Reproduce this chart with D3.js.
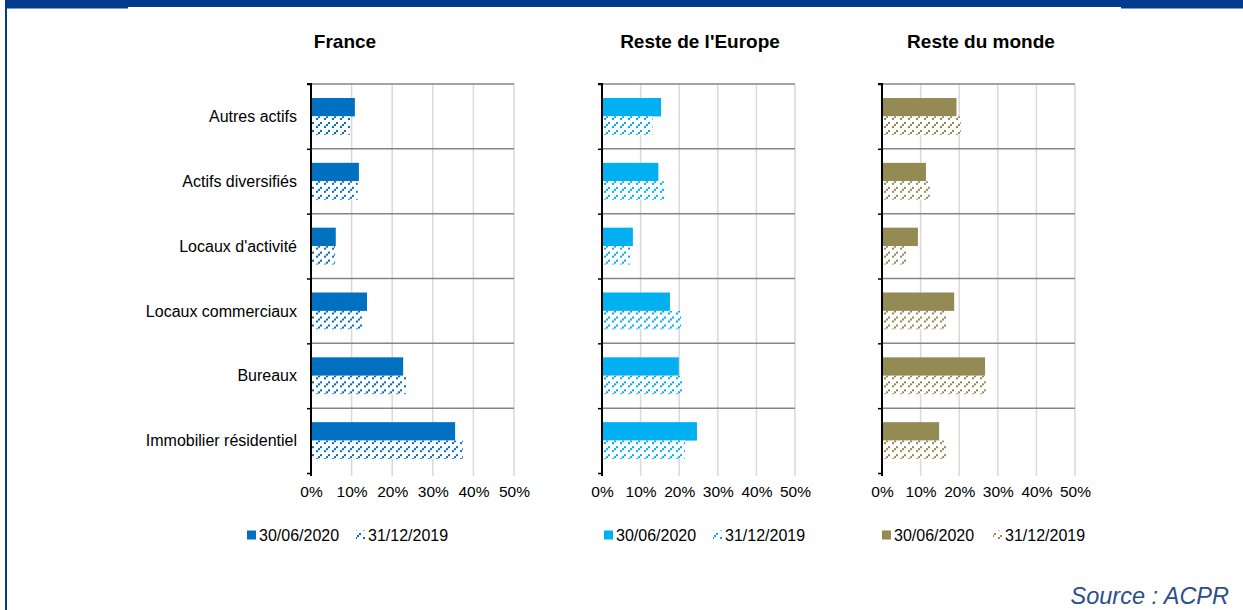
<!DOCTYPE html>
<html>
<head>
<meta charset="utf-8">
<script src="https://cdn.jsdelivr.net/npm/d3@7"></script>
<style>
  html, body { margin: 0; padding: 0; background: #fff; }
  svg { display: block; font-family: "Liberation Sans", Arial, sans-serif; }
</style>
</head>
<body>
<svg id="chart" width="1243" height="610"></svg>
<script>
// categories listed top to bottom as on the chart
const categories = ["Autres actifs", "Actifs diversifiés", "Locaux d'activité", "Locaux commerciaux", "Bureaux", "Immobilier résidentiel"];
const seriesLabels = ["30/06/2020", "31/12/2019"];
const xTicks = [0, 0.1, 0.2, 0.3, 0.4, 0.5];

const franceJun2020 = [0.108, 0.118, 0.061, 0.138, 0.227, 0.355];
const franceDec2019 = [0.096, 0.115, 0.059, 0.126, 0.234, 0.374];
const europeJun2020 = [0.153, 0.146, 0.080, 0.176, 0.199, 0.246];
const europeDec2019 = [0.131, 0.161, 0.073, 0.205, 0.212, 0.215];
const mondeJun2020 = [0.193, 0.114, 0.093, 0.187, 0.267, 0.148];
const mondeDec2019 = [0.204, 0.124, 0.067, 0.166, 0.269, 0.168];

const titles = ["France", "Reste de l'Europe", "Reste du monde"];
const colors = ["#0070c0", "#00b0f0", "#948a54"];

const svg = d3.select('#chart');
const defs = svg.append('defs');

// frame
svg.append('rect').attr('x', 5).attr('y', 0).attr('width', 1238).attr('height', 7).attr('fill', '#003b8e');
svg.append('rect').attr('x', 5).attr('y', 0).attr('width', 123).attr('height', 8.5).attr('fill', '#003b8e');
svg.append('rect').attr('x', 1121).attr('y', 0).attr('width', 122).attr('height', 8.5).attr('fill', '#003b8e');
svg.append('rect').attr('x', 5).attr('y', 0).attr('width', 2).attr('height', 610).attr('fill', '#003b8e');

// dashed diagonal fill for the 2019 bars
colors.forEach((c, i) => {
  const p = defs.append('pattern')
    .attr('id', 'hatch' + i)
    .attr('patternUnits', 'userSpaceOnUse')
    .attr('width', 8).attr('height', 8);
  p.append('rect').attr('width', 8).attr('height', 8).attr('fill', '#fff');
  [[6, 0], [4, 2], [0, 6]].forEach(([x, y]) => {
    p.append('rect').attr('x', x).attr('y', y).attr('width', 2).attr('height', 2).attr('fill', c);
  });
});

const panels = [
  { title: titles[0], a: franceJun2020, b: franceDec2019, x0: 311, x1: 514, titleX: 345, legX: 247, legGap: 109, labels: true },
  { title: titles[1], a: europeJun2020, b: europeDec2019, x0: 602, x1: 795, titleX: 700, legX: 604, legGap: 109, labels: false },
  { title: titles[2], a: mondeJun2020, b: mondeDec2019, x0: 882, x1: 1075, titleX: 981, legX: 882, legGap: 111, labels: false }
];

const plotTop = 84, plotBottom = 473;

panels.forEach((pn, pi) => {
  const g = svg.append('g');
  const x = d3.scaleLinear().domain([0, 0.5]).range([pn.x0, pn.x1]);
  const y = d3.scaleBand().domain(categories).range([plotTop, plotBottom]);
  const inner = d3.scaleBand().domain(seriesLabels).range([0, y.bandwidth()]).paddingOuter(0.76);
  const edges = d3.scaleLinear().domain([0, categories.length]).range([plotTop, plotBottom]);

  // vertical grid
  g.append('g').selectAll('line').data(xTicks.slice(1)).join('line')
    .attr('x1', d => x(d)).attr('x2', d => x(d))
    .attr('y1', plotTop).attr('y2', plotBottom + 3)
    .attr('stroke', '#d9d9d9').attr('stroke-width', 1.5);

  // horizontal category separators
  g.append('g').selectAll('line').data(d3.range(categories.length)).join('line')
    .attr('x1', pn.x0).attr('x2', pn.x1)
    .attr('y1', d => edges(d)).attr('y2', d => edges(d))
    .attr('stroke', '#868686').attr('stroke-width', 1.5);

  // bars
  const rows = categories.map((c, i) => ({ cat: c, vals: [pn.a[i], pn.b[i]] }));
  const rowG = g.append('g').selectAll('g').data(rows).join('g')
    .attr('transform', d => `translate(0,${y(d.cat)})`);
  rowG.selectAll('rect').data(d => d.vals.map((v, k) => ({ v, s: seriesLabels[k], k }))).join('rect')
    .attr('x', x(0))
    .attr('y', d => inner(d.s))
    .attr('width', d => x(d.v) - x(0))
    .attr('height', inner.bandwidth())
    .attr('fill', d => d.k === 0 ? colors[pi] : `url(#hatch${pi})`);

  // y axis with ticks at category edges
  const yAxis = d3.axisLeft(edges).tickValues(d3.range(categories.length + 1)).tickSize(4).tickFormat('');
  const ya = g.append('g').attr('transform', `translate(${pn.x0},0)`).call(yAxis);
  ya.select('.domain').attr('stroke', '#000').attr('stroke-width', 2).attr('d', `M-4,${plotTop}H0V${plotBottom + 3}`);
  ya.selectAll('.tick line').attr('stroke', '#000').attr('stroke-width', 1.5);

  // x axis labels
  const xAxis = d3.axisBottom(x).tickValues(xTicks).tickSize(0).tickPadding(0).tickFormat(d3.format('.0%'));
  const xa = g.append('g').attr('transform', `translate(0,${plotBottom + 13})`).call(xAxis);
  xa.select('.domain').remove();
  xa.selectAll('text').attr('font-size', 15.5).attr('fill', '#000').attr('font-family', '"Liberation Sans", Arial, sans-serif');

  // category labels
  if (pn.labels) {
    g.append('g').selectAll('text').data(categories).join('text')
      .attr('x', pn.x0 - 14)
      .attr('y', d => y(d) + y.bandwidth() / 2)
      .attr('dy', '0.35em')
      .attr('text-anchor', 'end')
      .attr('font-size', 16)
      .attr('fill', '#000')
      .text(d => d);
  }

  // title
  g.append('text')
    .attr('x', pn.titleX).attr('y', 48)
    .attr('text-anchor', 'middle')
    .attr('font-size', 19).attr('font-weight', 'bold')
    .attr('fill', '#000')
    .text(pn.title);

  // legend
  const leg = g.append('g').attr('transform', `translate(${pn.legX},535)`);
  leg.append('rect').attr('x', 0).attr('y', -4.5).attr('width', 9).attr('height', 9).attr('fill', colors[pi]);
  leg.append('text').attr('x', 12).attr('dy', '0.35em').attr('font-size', 16).attr('fill', '#000').text(seriesLabels[0]);
  leg.append('rect').attr('x', pn.legGap).attr('y', -4.5).attr('width', 9).attr('height', 9).attr('fill', `url(#hatch${pi})`);
  leg.append('text').attr('x', pn.legGap + 12).attr('dy', '0.35em').attr('font-size', 16).attr('fill', '#000').text(seriesLabels[1]);
});

svg.append('text')
  .attr('x', 1229).attr('y', 604)
  .attr('text-anchor', 'end')
  .attr('font-size', 23.5).attr('font-style', 'italic')
  .attr('fill', '#2c4f8c')
  .text('Source : ACPR');
</script>
</body>
</html>
